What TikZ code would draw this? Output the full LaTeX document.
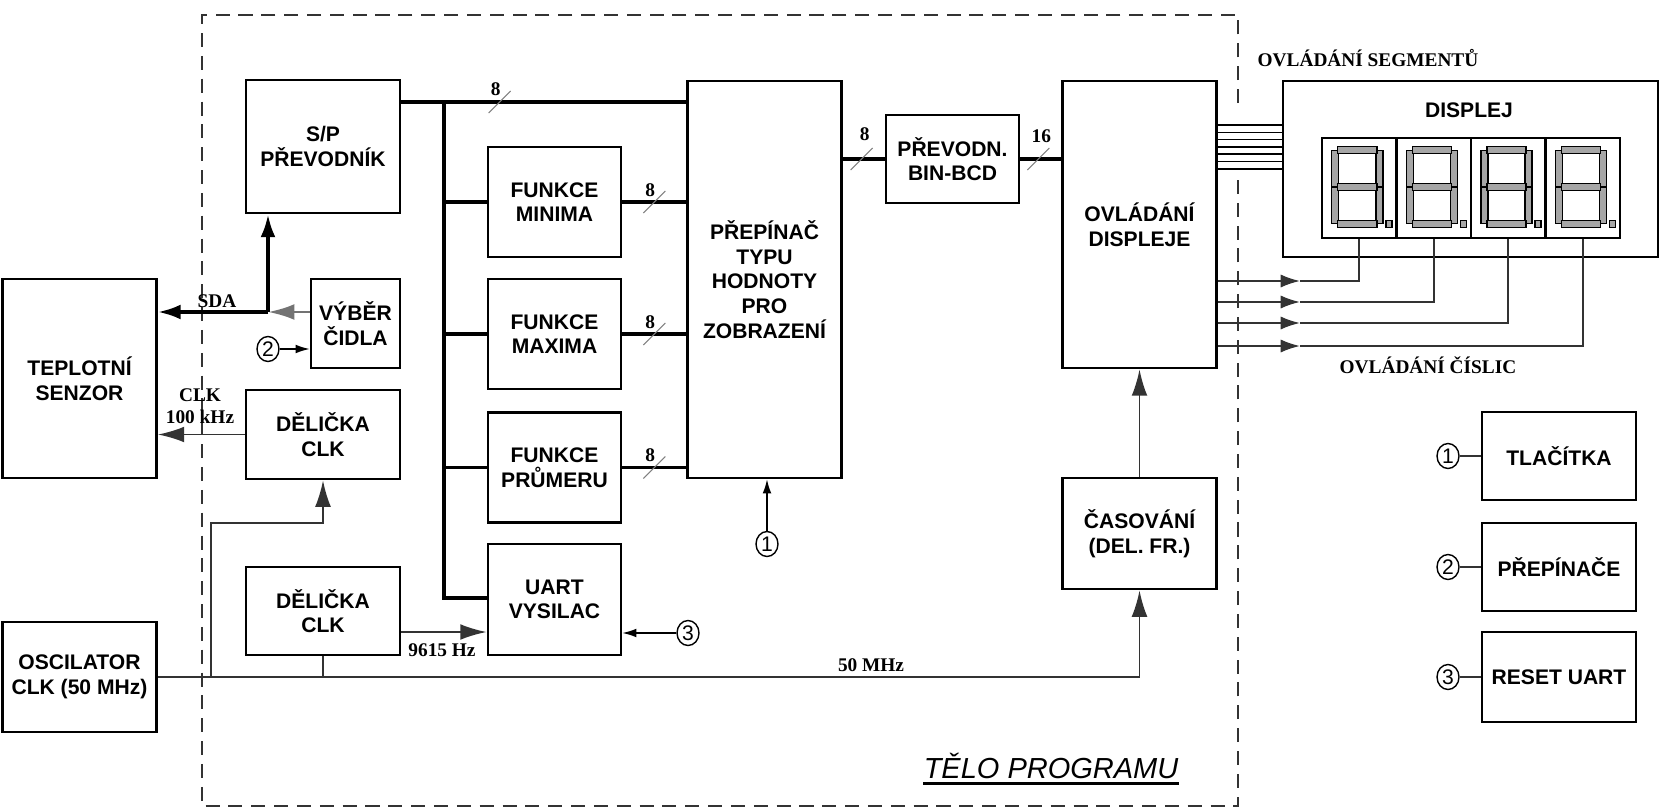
\documentclass[tikz,border=0pt]{standalone}
\usepackage{fontspec}
\setmainfont{Liberation Serif}
\setsansfont{Liberation Sans}
\usepackage{tikz}
\usetikzlibrary{arrows.meta, shapes.geometric}

\begin{document}
\begin{tikzpicture}[
      x=0.02cm, y=-0.02cm,
      every node/.style={font=\sffamily\bfseries\fontsize{12}{14}\selectfont},
      blok/.style={draw, line width=1.6pt, align=center, inner sep=2pt,
                   minimum width=3.08cm, minimum height=1.76cm},
      uzky/.style={blok, minimum width=2.66cm},
      cifra/.style={draw, line width=1.4pt, inner sep=0pt,
                    minimum width=1.49cm, minimum height=2cm},
      segment/.style={fill=gray!70, draw, line width=0.8pt},
      kruh/.style={ellipse, draw, line width=0.8pt, inner sep=0pt,
                   minimum width=0.44cm, minimum height=0.5cm,
                   font=\sffamily\fontsize{12}{12}\selectfont},
      popis/.style={font=\rmfamily\bfseries\fontsize{11}{12.5}\selectfont,
                    align=center, inner sep=0pt},
      sbernice/.style={line width=2pt},
      tenka/.style={line width=1.1pt, black!80},
      sipka/.style={tenka, -{Latex[length=15pt, width=9pt]}},
      sipkac/.style={tenka, -{Latex[length=11pt, width=7.5pt]}},
      malasipka/.style={line width=0.8pt, -{Latex[length=8pt, width=5pt]}},
      tlustasipka/.style={line width=2pt, -{Latex[length=13pt, width=8.5pt]}},
      ramec/.style={line width=1.4pt, black!80, dash pattern=on 8pt off 5pt},
      pics/sirka/.style 2 args={code={
          \draw[gray, line width=0.6pt] (-11,11) -- (11,-11);
          \node[popis] (w) at (#2) {#1};}},
    ]
    \useasboundingbox (0,0) rectangle (1666,808);

    % Telo programu (ramec)
    \draw[ramec] (1238,103) -- (1238,15) -- (202,15) -- (202,806)
                 -- (1238,806) -- (1238,178);
    \node[font=\sffamily\itshape\fontsize{16.5}{18}\selectfont,
          inner sep=0pt, anchor=base] (telo) at (1051,778) {TĚLO PROGRAMU};
    \draw[line width=1.6pt] ([yshift=-3pt]telo.base west) -- ([yshift=-3pt]telo.base east);

    % Senzor a oscilator
    \node[blok, minimum height=3.98cm] (senzor) at (79.5,378.5) {TEPLOTNÍ\\SENZOR};
    \node[blok, minimum height=2.2cm]  (osc)    at (79.5,677)   {OSCILATOR\\CLK (50 MHz)};

    % Bloky
    \node[blok, minimum height=2.66cm] (sp) at (323,146.5) {S/P\\PŘEVODNÍK};
    \node[blok, minimum width=1.78cm, minimum height=1.78cm]
      (vyber) at (355.5,323.5) {VÝBĚR\\ČIDLA};
    \node[blok, minimum height=1.78cm] (delA) at (323,434.5) {DĚLIČKA\\CLK};
    \node[blok]                        (delB) at (323,611)   {DĚLIČKA\\CLK};
    \node[uzky, minimum height=2.2cm]  (fmin)  at (554.5,202)   {FUNKCE\\MINIMA};
    \node[uzky, minimum height=2.2cm]  (fmax)  at (554.5,334)   {FUNKCE\\MAXIMA};
    \node[uzky, minimum height=2.2cm]  (fprum) at (554.5,467.5) {FUNKCE\\PRŮMERU};
    \node[uzky, minimum height=2.22cm] (uart)  at (554.5,599.5) {UART\\VYSILAC};
    \node[blok, minimum height=7.94cm] (prep) at (764.5,279.5)
      {PŘEPÍNAČ\\TYPU\\HODNOTY\\PRO\\ZOBRAZENÍ};
    \node[uzky] (bcd) at (952.5,159) {PŘEVODN.\\BIN-BCD};
    \node[blok, minimum height=5.74cm] (ovl) at (1139.5,224.5) {OVLÁDÁNÍ\\DISPLEJE};
    \node[blok, minimum height=2.22cm] (cas) at (1139.5,533.5) {ČASOVÁNÍ\\(DEL. FR.)};

    % Vstupy 1-3
    \node[kruh] (k1) at (767,544) {1};
    \node[kruh] (k2) at (268,349) {2};
    \node[kruh] (k3) at (688,633) {3};

    % Sbernice
    \coordinate (uzel) at (444,102);
    \draw[sbernice] (sp.east |- uzel) -- coordinate[pos=.345] (b1) (prep.west |- uzel);
    \draw[sbernice] (uzel) |- (uart.west |- 0,598);
    \draw[sbernice] (uzel |- fmin)  -- (fmin);
    \draw[sbernice] (uzel |- fmax)  -- (fmax);
    \draw[sbernice] (uzel |- fprum) -- (fprum);
    \draw[sbernice] (fmin)  -- coordinate (b2) (prep.west |- fmin);
    \draw[sbernice] (fmax)  -- coordinate (b3) (prep.west |- fmax);
    \draw[sbernice] (fprum) -- coordinate (b4) (prep.west |- fprum);
    \draw[sbernice] (prep.east |- bcd) -- coordinate[pos=.45] (b5) (bcd);
    \draw[sbernice] (bcd) -- coordinate[pos=.44] (b6) (ovl.west |- bcd);
    \pic at (b1) {sirka={8}{-4,-13}};
    \pic at (b2) {sirka={8}{-4,-12}};
    \pic at (b3) {sirka={8}{-4,-12}};
    \pic at (b4) {sirka={8}{-4,-12}};
    \pic at (b5) {sirka={8}{3,-25}};
    \pic at (b6) {sirka={16}{3,-23}};

    % SDA a hodiny
    \coordinate (sda) at (268,312);
    \draw[tlustasipka] (sda) -- (senzor.east |- sda);
    \draw[tlustasipka] (sda) -- (sda |- sp.south);
    \draw[sipka, black!55, line width=1.6pt] (vyber.west |- sda) -- (sda);
    \node[popis] (lsda) at (217,301) {SDA};
    \draw[sipka] (delA) -- (senzor.east |- delA);
    \node[popis] (lclk) at (200,406) {CLK\\100 kHz};
    \coordinate (odb) at (211,677);
    \draw[sipka] (osc) -| (cas);
    \node[popis] (l50) at (871,665) {50 MHz};
    \draw[sipka] (odb) |- (delA.south |- 0,523) -- (delA.south);
    \draw[tenka] (delB) -- (delB |- osc);
    \draw[sipka] (delB.east |- 0,632) -- (uart.west |- 0,632);
    \node[popis] (l9615) at (442,650) {9615 Hz};
    \draw[sipka] (cas) -- (ovl);
    \draw[malasipka] (k1) -- (k1 |- prep.south);
    \draw[malasipka] (k2) -- (vyber.west |- k2);
    \draw[malasipka] (k3) -- (uart.east |- k3);

    % Displej
    \node[blok, minimum width=7.5cm, minimum height=3.52cm] (displej) at (1470.5,169) {};
    \node (dtext) at (1469,110) {DISPLEJ};
    \node[popis] (lseg) at (1368,58)  {OVLÁDÁNÍ SEGMENTŮ};
    \node[popis] (lcis) at (1428,365) {OVLÁDÁNÍ ČÍSLIC};
    \foreach \i in {0,...,6} {
      \pgfmathsetmacro{\y}{125+7.3*\i}
      \draw[line width=0.9pt] (ovl.east |- 0,\y) -- (displej.west |- 0,\y);
    }
    \foreach \i/\y in {1/281,2/302,3/323,4/346} {
      \node[cifra] (d\i) at ({1322+74.5*(\i-0.5)},188) {};
      \begin{scope}[shift={(d\i.north west)}]
        \draw[segment] (11,14) rectangle (18,50);
        \draw[segment] (11,51) rectangle (18,87);
        \draw[segment] (55,14) rectangle (62,50);
        \draw[segment] (55,51) rectangle (62,87);
        \draw[segment] (17,10) rectangle (56,17);
        \draw[segment] (17,47) rectangle (56,54);
        \draw[segment] (17,84) rectangle (56,91);
        \draw[segment] (65,84) rectangle (71,91);
      \end{scope}
      \coordinate (s\i) at (1300,\y);
      \draw[sipkac] (ovl.east |- s\i) -- (s\i);
      \draw[tenka] (s\i) -| (d\i.south);
    }

    % Legenda
    \node[blok] (tlac)   at (1559,456) {TLAČÍTKA};
    \node[blok] (prepin) at (1559,567) {PŘEPÍNAČE};
    \node[blok, minimum height=1.8cm] (reset) at (1559,677) {RESET UART};
    \node[kruh] (l1) at (1448,456) {1};
    \node[kruh] (l2) at (1448,567) {2};
    \node[kruh] (l3) at (1448,677) {3};
    \draw[tenka] (l1) -- (tlac);
    \draw[tenka] (l2) -- (prepin);
    \draw[tenka] (l3) -- (reset);

  \end{tikzpicture}
\end{document}
